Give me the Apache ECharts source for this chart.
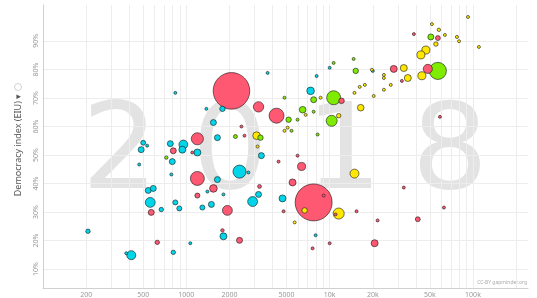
<!DOCTYPE html>
<html>
<head>
<meta charset="utf-8">
<script src="https://cdn.jsdelivr.net/npm/echarts@6/dist/echarts.min.js"></script>
<style>
  html, body { margin: 0; padding: 0; background: #fff; }
  #chart { width: 537px; height: 298px; }
</style>
</head>
<body>
<div id="chart"></div>
<script>
// income per person (x), democracy index in % (y), population in millions (bubble area), region (colour)
const gdp = [2065, 7730, 838, 1380, 1194, 953, 773, 500, 484, 533, 469, 725, 811, 938, 798, 786, 1194, 1100, 1194, 1402,
  1194, 542, 588, 560, 569, 669, 838, 893, 1294, 206, 627, 1066, 811, 413, 381, 1786, 3190, 4260, 5170, 4840,
  3690, 5970, 5090, 5420, 4840, 1545, 2424, 2200, 2545, 3090, 3290, 1647, 3140, 7360, 7730, 8650, 8110, 10000, 10660, 14700,
  15200, 20000, 6480, 7730, 6800, 10660, 12100, 10330, 11560, 16470, 14900, 16200, 17600, 20300, 8240, 92300, 51700, 57800, 50800, 56900,
  63700, 77300, 79900, 110000, 38700, 55100, 46900, 43300, 32900, 28000, 35100, 44000, 56900, 48400, 23900, 23900, 23900, 31900, 26700, 19700,
  58800, 2350, 2710, 1647, 1545, 1815, 3340, 5970, 6370, 4400, 5510, 3240, 3190, 2900, 4690, 1496, 1934, 4770, 6690, 9080,
  11560, 11000, 14900, 15400, 5700, 1786, 1815, 2350, 7980, 7600, 10000, 20600, 21600, 32900, 62700, 41200];
const democracy = [72.5, 33.4, 71.8, 66.2, 55.7, 53.7, 54.0, 54.3, 51.9, 53.3, 46.7, 49.1, 51.5, 51.9, 47.7, 43.2, 50.9, 50.9, 41.8, 37.2,
  35.8, 37.6, 38.3, 33.4, 29.9, 30.9, 33.4, 31.3, 31.6, 23.3, 19.4, 19.1, 15.9, 14.9, 15.6, 66.2, 66.9, 63.8, 62.4, 70.1,
  78.8, 62.4, 59.6, 58.5, 58.5, 61.4, 60.0, 56.5, 56.8, 56.8, 56.1, 56.1, 53.0, 72.5, 69.4, 70.1, 77.7, 80.6, 82.3, 83.7,
  79.5, 79.5, 65.9, 65.2, 64.1, 70.1, 69.0, 62.0, 63.8, 66.6, 71.8, 73.9, 74.6, 70.7, 57.2, 98.4, 95.9, 93.9, 91.4, 91.0,
  92.1, 91.4, 89.9, 87.9, 92.4, 88.9, 86.8, 85.1, 80.5, 80.2, 77.0, 77.8, 79.5, 80.2, 78.1, 77.0, 72.9, 76.0, 74.6, 79.9,
  63.4, 44.2, 43.9, 41.4, 38.3, 36.2, 49.8, 49.8, 46.0, 47.7, 40.4, 39.0, 36.2, 33.7, 34.8, 32.7, 30.6, 30.3, 30.6, 35.8,
  29.5, 29.2, 43.5, 30.3, 26.4, 23.6, 21.5, 20.1, 21.9, 17.3, 19.1, 19.1, 27.1, 38.6, 31.6, 27.5];
const population = [1370, 1400, 2, 2, 150, 80, 37, 25, 37, 3, 3, 12, 37, 50, 37, 3, 50, 3, 200, 3,
  26, 37, 37, 100, 37, 20, 26, 26, 26, 20, 20, 8, 20, 84, 5, 30, 110, 230, 30, 3,
  3, 3, 3, 3, 3, 37, 3, 16, 3, 60, 30, 37, 3, 60, 37, 3, 3, 3, 3, 3,
  30, 3, 45, 3, 3, 200, 32, 124, 20, 45, 3, 3, 3, 3, 3, 5, 1, 12, 37, 25,
  5, 10, 5, 1, 5, 20, 66, 66, 50, 50, 50, 66, 300, 85, 3, 3, 3, 3, 3, 3,
  5, 175, 3, 37, 60, 3, 37, 3, 66, 3, 50, 15, 37, 100, 50, 37, 100, 3, 30, 3,
  125, 3, 82, 3, 5, 12, 50, 37, 3, 3, 3, 50, 3, 3, 3, 25];
const region = ['asia', 'asia', 'africa', 'africa', 'asia', 'africa', 'africa', 'africa', 'africa', 'africa', 'africa', 'americas', 'asia', 'africa', 'africa', 'africa', 'africa', 'asia', 'asia', 'africa',
  'asia', 'africa', 'africa', 'africa', 'asia', 'africa', 'africa', 'africa', 'africa', 'africa', 'asia', 'africa', 'africa', 'africa', 'africa', 'africa', 'asia', 'asia', 'americas', 'americas',
  'africa', 'americas', 'europe', 'americas', 'europe', 'africa', 'asia', 'americas', 'asia', 'europe', 'americas', 'africa', 'europe', 'africa', 'americas', 'europe', 'africa', 'africa', 'americas', 'americas',
  'americas', 'africa', 'americas', 'americas', 'europe', 'americas', 'asia', 'americas', 'europe', 'europe', 'europe', 'europe', 'europe', 'europe', 'americas', 'europe', 'europe', 'europe', 'americas', 'asia',
  'europe', 'europe', 'europe', 'europe', 'asia', 'europe', 'europe', 'europe', 'europe', 'asia', 'europe', 'europe', 'americas', 'asia', 'europe', 'europe', 'europe', 'asia', 'europe', 'europe',
  'asia', 'africa', 'africa', 'africa', 'asia', 'africa', 'africa', 'asia', 'asia', 'asia', 'asia', 'asia', 'africa', 'africa', 'africa', 'africa', 'asia', 'asia', 'europe', 'asia',
  'europe', 'asia', 'europe', 'asia', 'europe', 'asia', 'africa', 'asia', 'africa', 'asia', 'asia', 'asia', 'asia', 'asia', 'asia', 'asia'];

const xLabels = [200, 500, 1000, 2000, 5000, 10000, 20000, 50000, 100000];
const xGrid = [100, 200, 300, 400, 500, 600, 700, 800, 900, 1000, 2000, 3000, 4000, 5000, 6000, 7000, 8000, 9000,
  10000, 20000, 30000, 40000, 50000, 60000, 70000, 80000, 90000, 100000, 200000];
const yTicks = [10, 20, 30, 40, 50, 60, 70, 80, 90];
const year = '2018';

const colors = { africa: '#00d5e9', asia: '#ff5872', europe: '#ffe700', americas: '#7feb00' };

// big bubbles first so the small ones stay visible
const order = gdp.map((_, i) => i).sort((a, b) => population[b] - population[a]);
const points = order.map(i => ({
  value: [gdp[i], democracy[i], population[i]],
  itemStyle: { color: colors[region[i]] }
}));

const digitX = [120, 230, 344, 450];
const yearText = year.split('').map((d, i) => ({
  type: 'text',
  x: digitX[i],
  y: 157,
  z: -10,
  silent: true,
  style: {
    text: d,
    font: '120px "DejaVu Sans", Verdana, sans-serif',
    fill: '#e3e3e3',
    align: 'center',
    verticalAlign: 'middle'
  }
}));

const chart = echarts.init(document.getElementById('chart'));
chart.setOption({
  animation: false,
  grid: { left: 43, right: 9, top: 5, bottom: 9 },
  graphic: yearText.concat([
    {
      type: 'text',
      x: 18,
      y: 145,
      rotation: Math.PI / 2,
      silent: true,
      style: {
        text: 'Democracy index (EIU) ▾',
        fontFamily: 'Noto Sans',
        fontSize: 9,
        fill: '#555',
        align: 'center',
        verticalAlign: 'middle'
      }
    },
    {
      type: 'circle',
      shape: { cx: 18, cy: 87, r: 3.5 },
      silent: true,
      style: { fill: 'none', stroke: '#c8c8c8', lineWidth: 0.8 }
    },
    {
      type: 'text',
      x: 527,
      y: 283,
      silent: true,
      style: {
        text: 'CC-BY gapminder.org',
        fontFamily: 'Noto Sans',
        fontSize: 5,
        fill: '#aaa',
        align: 'right',
        verticalAlign: 'middle'
      }
    }
  ]),
  xAxis: {
    type: 'log',
    logBase: 10,
    min: 100,
    max: 242000,
    axisLine: { show: true, lineStyle: { color: '#d0d0d0', width: 1 } },
    axisTick: { show: false, customValues: xGrid },
    splitLine: { show: true, lineStyle: { color: '#ededed', width: 1 } },
    axisLabel: {
      customValues: xLabels,
      fontSize: 7,
      color: '#999',
      margin: 3,
      fontFamily: 'Noto Sans',
      formatter: v => (v >= 10000 ? v / 1000 + 'k' : String(v))
    }
  },
  yAxis: {
    type: 'value',
    min: 3.4,
    max: 102.6,
    axisLine: { show: true, lineStyle: { color: '#d0d0d0', width: 1 } },
    axisTick: { show: false, customValues: yTicks },
    splitLine: { show: true, lineStyle: { color: '#ededed', width: 1 } },
    axisLabel: {
      customValues: yTicks,
      rotate: 90,
      fontSize: 7,
      color: '#999',
      margin: 4,
      fontFamily: 'Noto Sans',
      formatter: '{value}%'
    }
  },
  series: [
    {
      type: 'scatter',
      data: points,
      symbolSize: v => Math.max(3, 2 * 0.494 * Math.sqrt(v[2])),
      itemStyle: { borderColor: 'rgba(20,20,20,0.75)', borderWidth: 0.8, opacity: 1 }
    }
  ]
});
</script>
</body>
</html>
